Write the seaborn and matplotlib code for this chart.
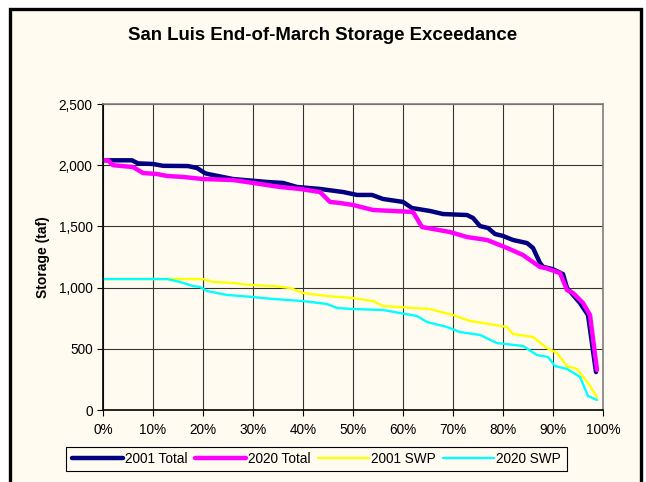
import matplotlib
matplotlib.use("Agg")
import matplotlib.pyplot as plt
from matplotlib.patches import Rectangle
from matplotlib.ticker import FuncFormatter, MultipleLocator
import seaborn as sns
import pandas as pd

# ---- data ----
x_2001_total = [0, 5.8, 7, 10, 12, 17, 18.8, 20.4, 21, 26, 32.8, 36, 38.8, 43.4, 48, 50.8, 53.8, 56, 60,
                61.8, 65.4, 68, 72.8, 74, 75.4, 77, 78.4, 80, 82, 84.8, 86, 87.4, 88, 90, 92, 92.8, 95.4, 97, 98.6]
y_2001_total = [2040, 2040, 2015, 2010, 1995, 1993, 1977, 1935, 1928, 1887, 1863, 1855, 1822, 1806, 1781, 1757,
                1757, 1724, 1700, 1650, 1626, 1601, 1593, 1569, 1503, 1487, 1438, 1422, 1389, 1364, 1324, 1201,
                1170, 1150, 1110, 997, 874, 776, 310]

x_2020_total = [0, 1, 2, 6, 8, 10.8, 12.8, 16, 20, 26, 30, 35.4, 39.4, 43.4, 45.4, 47.4, 50, 54, 62, 63.8,
                69.4, 72.8, 76.8, 80.8, 84, 87.4, 88.5, 91.4, 92.8, 94, 96, 97.4, 98.8]
y_2020_total = [2040, 2040, 2000, 1985, 1936, 1928, 1912, 1904, 1887, 1879, 1855, 1822, 1806, 1781, 1700,
                1691, 1675, 1634, 1618, 1495, 1454, 1413, 1389, 1324, 1266, 1168, 1160, 1119, 980, 956, 874,
                776, 327]

x_2001_swp = [0, 20, 22, 26, 29.4, 34, 37.4, 40, 44.8, 47.4, 50, 54, 56, 65.4, 70, 73.4, 76, 80.8, 82, 86,
              88.8, 90.8, 92.8, 94.8, 97, 98.8]
y_2001_swp = [1070, 1070, 1046, 1038, 1021, 1013, 997, 956, 931, 923, 915, 890, 850, 825, 776, 727, 711,
              678, 621, 596, 506, 466, 359, 335, 221, 106]

x_2020_swp = [0, 12.8, 15.4, 18, 19.4, 20.8, 24.8, 30, 34, 40, 44.8, 46.8, 50, 56, 62.8, 64.8, 68.8, 71.4,
              75.4, 78.8, 84, 86.8, 89, 90.4, 92.8, 95.4, 97, 98.8]
y_2020_swp = [1070, 1070, 1046, 1013, 1005, 972, 940, 923, 907, 890, 866, 833, 825, 817, 768, 719, 678,
              637, 613, 547, 523, 449, 433, 359, 335, 270, 114, 82]

series_names = ["2001 Total", "2020 Total", "2001 SWP", "2020 SWP"]
title_text = "San Luis End-of-March Storage Exceedance"
y_label = "Storage (taf)"

# ---- style ----
sns.set_style("white")
plt.rcParams["font.family"] = ["Liberation Sans", "DejaVu Sans"]
plt.rcParams["text.color"] = "black"
plt.rcParams["axes.labelcolor"] = "black"

cream = "#FFFBF0"
W, H = 646, 482
fig = plt.figure(figsize=(W / 100, H / 100), dpi=100, facecolor="white")

# outer chart frame
frame = Rectangle((10 / W, -0.05), 631 / W, 1.05 - 9 / H, transform=fig.transFigure,
                  facecolor=cream, edgecolor="black", linewidth=2.4, zorder=-10)
fig.patches.append(frame)

ax = fig.add_axes([103 / W, 1 - 410 / H, 500 / W, 306 / H])
ax.set_zorder(2)
ax.set_facecolor(cream)

styles = [
    (x_2001_total, y_2001_total, "#000080", 3.2),
    (x_2020_total, y_2020_total, "#FF00FF", 3.2),
    (x_2001_swp, y_2001_swp, "#FFFF00", 1.7),
    (x_2020_swp, y_2020_swp, "#00FFFF", 1.7),
]
order = [2, 3, 0, 1]
handles = {}
for i in order:
    xs, ys, col, lw = styles[i]
    df = pd.DataFrame({"x": xs, "y": ys})
    sns.lineplot(data=df, x="x", y="y", ax=ax, color=col, linewidth=lw, sort=False,
                 solid_capstyle="round", solid_joinstyle="round", label=series_names[i], legend=False)
    handles[i] = ax.lines[-1]

ax.set_xlim(0, 100)
ax.set_ylim(0, 2500)
ax.xaxis.set_major_locator(MultipleLocator(10))
ax.yaxis.set_major_locator(MultipleLocator(500))
ax.xaxis.set_major_formatter(FuncFormatter(lambda v, p: f"{int(round(v))}%"))
ax.yaxis.set_major_formatter(FuncFormatter(lambda v, p: f"{int(v):,}"))
ax.grid(True, color="#333333", linewidth=0.8)
ax.set_axisbelow(True)
for s in ["left", "bottom"]:
    ax.spines[s].set_color("black")
    ax.spines[s].set_linewidth(1.2)
for s in ["top", "right"]:
    ax.spines[s].set_color("#808080")
    ax.spines[s].set_linewidth(1.2)
ax.tick_params(axis="both", direction="out", length=4, width=0.8, color="black",
               labelsize=9.8, labelcolor="black", bottom=True, left=True)
ax.tick_params(axis="x", pad=5)
ax.set_xlabel("")
ax.set_ylabel(y_label, fontsize=10, fontweight="bold", labelpad=6)

fig.text(323 / W, 1 - 35 / H, title_text, ha="center", va="center", fontsize=13.4, fontweight="bold")

leg = fig.legend([handles[i] for i in range(4)], series_names, loc="center",
                 bbox_to_anchor=(316.5 / W, 1 - 459 / H), ncol=4, fontsize=9.8, frameon=True,
                 fancybox=False, edgecolor="black", facecolor=cream, framealpha=1,
                 handlelength=3.75, handletextpad=0.15, columnspacing=0.55, borderpad=0.4)
leg.get_frame().set_linewidth(0.8)
leg.set_zorder(5)

fig.savefig("out.png", dpi=100, facecolor="white")
